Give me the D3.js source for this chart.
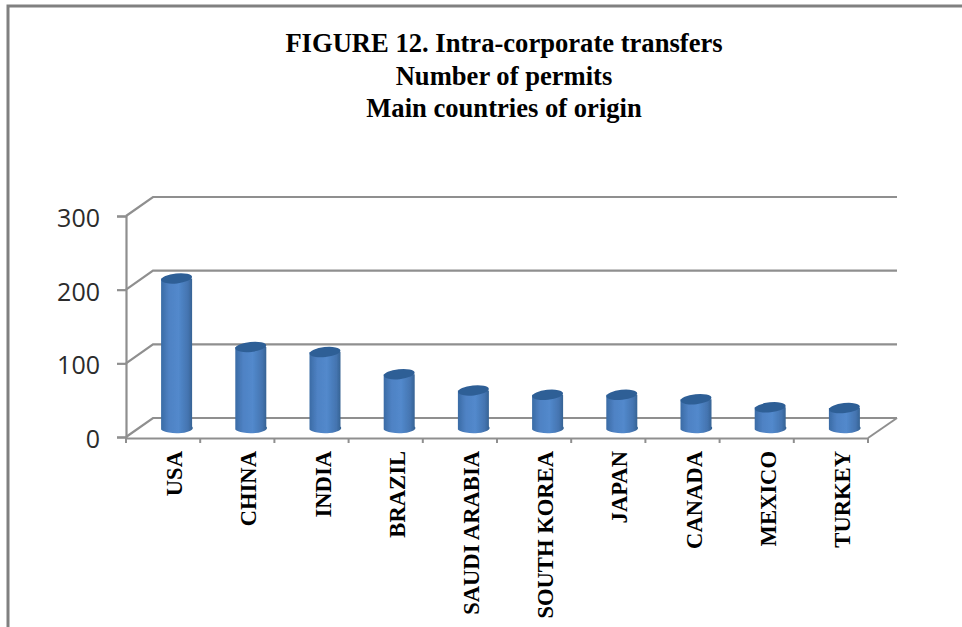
<!DOCTYPE html>
<html>
<head>
<meta charset="utf-8">
<script src="https://cdn.jsdelivr.net/npm/d3@7"></script>
<style>
    html, body { margin: 0; padding: 0; background: #fff; }
    svg { display: block; }
    .title { font-family: "Liberation Serif", serif; font-weight: bold; font-size: 26.6px; text-anchor: middle; fill: #000; }
    .cat { font-family: "Liberation Serif", serif; font-weight: bold; font-size: 22.6px; fill: #000; }
    .val { font-family: "Open Sans", sans-serif; font-size: 25px; fill: #2b2b2b; }
</style>
</head>
<body>
<svg id="chart" width="962" height="627"></svg>
<script>
const categories = ['USA', 'CHINA', 'INDIA', 'BRAZIL', 'SAUDI ARABIA', 'SOUTH KOREA', 'JAPAN', 'CANADA', 'MEXICO', 'TURKEY'];
const permits = [201, 108, 101, 71, 49, 43, 43, 37, 26, 25];
const yTicks = [0, 100, 200, 300];
const titleLines = ['FIGURE 12. Intra-corporate transfers', 'Number of permits', 'Main countries of origin'];

const svg = d3.select('#chart');
const gridColor = '#8f8f8f';

// soft edge, the reference is a slightly blurred scan
const defs = svg.append('defs');
defs.append('filter').attr('id', 'soft')
    .append('feGaussianBlur').attr('stdDeviation', 0.5);

const grad = defs.append('linearGradient').attr('id', 'cyl');
[[0, '#3a6ba5'], [0.25, '#4f82c4'], [0.55, '#5289cc'], [0.85, '#4474b0'], [1, '#34608f']].forEach(s => {
    grad.append('stop').attr('offset', s[0]).attr('stop-color', s[1]);
});

// page frame
svg.append('path')
    .attr('d', 'M8,627V6H962')
    .attr('fill', 'none')
    .attr('stroke', '#808080')
    .attr('stroke-width', 3);

svg.selectAll('.title')
    .data(titleLines)
    .enter()
    .append('text')
    .attr('class', 'title')
    .attr('x', 504)
    .attr('y', (d, i) => 52 + i * 32.5)
    .text(d => d);

// front plane of the 3d box, back wall is shifted by depth
const x = d3.scaleBand().domain(categories).range([126, 868]);
const y = d3.scaleLinear().domain([0, 300]).range([437, 216]);
const depth = { x: 27, y: -19 };

const chart = svg.append('g').attr('filter', 'url(#soft)');

// gridlines: wall diagonal then back wall
chart.selectAll('.grid')
    .data(yTicks)
    .enter()
    .append('path')
    .attr('d', d => `M126,${y(d)}L${126 + depth.x},${y(d) + depth.y}H897`)
    .attr('fill', 'none')
    .attr('stroke', gridColor)
    .attr('stroke-width', 2.2);

// floor
chart.append('path')
    .attr('d', `M${x.range()[1]},${y(0) + 1}L897,${y(0) + depth.y}`)
    .attr('fill', 'none')
    .attr('stroke', gridColor)
    .attr('stroke-width', 2);

const yAxis = chart.append('g')
    .attr('transform', 'translate(126,0)')
    .call(d3.axisLeft(y).tickValues(yTicks).tickSize(9).tickPadding(6));
yAxis.select('.domain').attr('stroke', gridColor).attr('stroke-width', 2.2);
yAxis.selectAll('line').attr('stroke', gridColor).attr('stroke-width', 2.2);
yAxis.selectAll('text').remove();

const xAxis = chart.append('g')
    .attr('transform', `translate(0,${y(0) + 1})`)
    .call(d3.axisBottom(x).tickValues([]).tickSize(0));
xAxis.select('.domain').attr('stroke', gridColor).attr('stroke-width', 2.2);
xAxis.selectAll('.sep')
    .data(categories.map(c => x(c)).concat(x.range()[1]))
    .enter()
    .append('line')
    .attr('class', 'sep')
    .attr('x1', d => d)
    .attr('x2', d => d)
    .attr('y1', 0)
    .attr('y2', 5)
    .attr('stroke', gridColor)
    .attr('stroke-width', 2);

// y labels stay sharp
svg.selectAll('.val')
    .data(yTicks)
    .enter()
    .append('text')
    .attr('class', 'val')
    .attr('x', 100)
    .attr('y', d => y(d) + 11)
    .attr('text-anchor', 'end')
    .text(d => d);

// cylinders sit half way into the depth of the box
const barW = 31;
const ry = 5;
const base = y(0) + depth.y / 2 - 1;
const pxPerUnit = (y(0) - y(100)) / 100;
const barCx = d => x(d) + x.bandwidth() / 2 + depth.x / 2;
const bars = chart.selectAll('.bar')
    .data(categories.map((c, i) => ({ c, v: permits[i] })))
    .enter()
    .append('g')
    .attr('class', 'bar')
    .attr('transform', d => `translate(${barCx(d.c)},0)`);

bars.append('path')
    .attr('d', d => {
        const top = base - d.v * pxPerUnit;
        return `M${-barW / 2},${top}V${base + 3}A${barW / 2},${ry} 0 0 0 ${barW / 2},${base}V${top}Z`;
    })
    .attr('fill', 'url(#cyl)');

bars.append('ellipse')
    .attr('cx', 0)
    .attr('cy', d => base - d.v * pxPerUnit)
    .attr('rx', barW / 2)
    .attr('ry', ry)
    .attr('transform', d => `rotate(-6 0 ${base - d.v * pxPerUnit})`)
    .attr('fill', '#2f5f96');

// category labels, read bottom to top
svg.selectAll('.cat')
    .data(categories)
    .enter()
    .append('text')
    .attr('class', 'cat')
    .attr('text-anchor', 'end')
    .attr('transform', d => `translate(${x(d) + x.bandwidth() / 2 + 19},451) rotate(-90)`)
    .text(d => d);
</script>
</body>
</html>
